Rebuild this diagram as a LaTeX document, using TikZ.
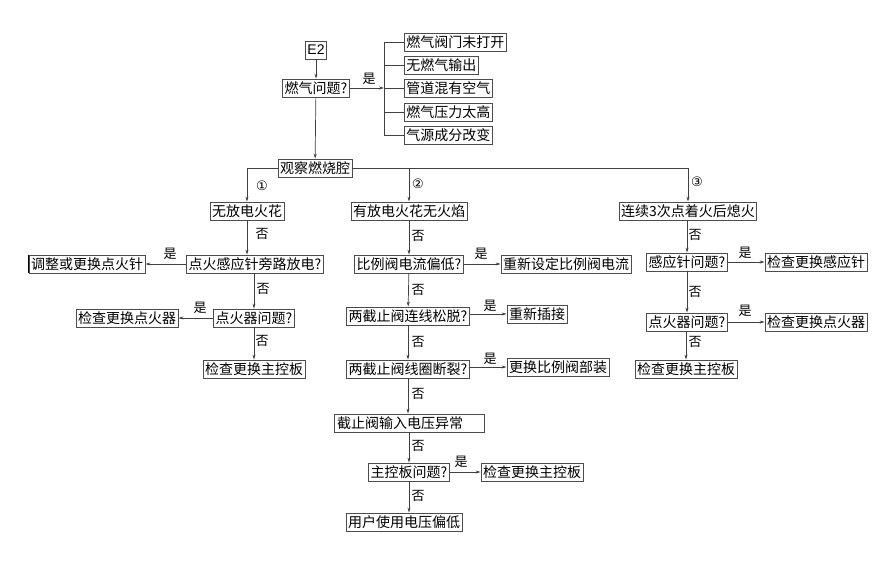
\documentclass[tikz,border=0pt]{standalone}
\usepackage{fontspec}
\setmainfont{Liberation Serif}
\newfontfamily\cjk{Noto Sans CJK SC}
\usetikzlibrary{arrows.meta}
\begin{document}
\begin{tikzpicture}[x=1pt,y=-1pt,
  bx/.style={draw=black!70,line width=0.8pt,inner xsep=2pt,inner ysep=1pt,minimum height=18pt,font=\cjk\fontsize{14}{15}\selectfont},
  lb/.style={font=\cjk\fontsize{13}{14}\selectfont,inner sep=1pt},
  ar/.style={draw=black!75,line width=0.7pt,-{Stealth[length=5pt,width=3pt]}},
  ln/.style={draw=black!75,line width=0.7pt}]
\useasboundingbox (0,0) rectangle (896,565);
% top
\node[bx] (e2) at (316,50) {\fontspec{Liberation Sans}E2};
\node[bx] (gas) at (316,88) {燃气问题?};
\node[bx,anchor=west] (r1) at (404,42) {燃气阀门未打开};
\node[bx,anchor=west] (r2) at (404,65) {无燃气输出};
\node[bx,anchor=west] (r3) at (404,88) {管道混有空气};
\node[bx,anchor=west] (r4) at (404,112) {燃气压力太高};
\node[bx,anchor=west] (r5) at (404,135) {气源成分改变};
\coordinate (bt) at (384,42);
\coordinate (bb) at (384,135);
\coordinate (bm) at (384,88);
\draw[ln] (bt) -- (bb);
\foreach \r in {r1,r2,r3,r4,r5} \draw[ln] (bt |- \r.west) -- (\r.west);
\draw[ar] (gas) -- (bm);
\node[lb] at (369,79) {是};
\draw[ar] (e2) -- (gas);
\node[bx] (obs) at (315,168) {观察燃烧腔};
\draw[ar] (gas) -- (obs);
% branches
\node[bx] (b1) at (247,211) {无放电火花};
\node[bx] (b2) at (409,211) {有放电火花无火焰};
\node[bx] (b3) at (688,211) {连续3次点着火后熄火};
\coordinate (h1) at (247,168);
\coordinate (h2) at (409,168);
\coordinate (h3) at (688,168);
\draw[ln] (h1) -- (obs.west);
\draw[ln] (obs.east) -- (h3);
\draw[ar] (h1) -- (b1);
\draw[ar] (h2) -- (b2);
\draw[ar] (h3) -- (b3);
\node[font=\fontspec{DejaVu Sans}\fontsize{13}{14}\selectfont] at (262,186) {①};
\node[font=\fontspec{DejaVu Sans}\fontsize{13}{14}\selectfont] at (418,184) {②};
\node[font=\fontspec{DejaVu Sans}\fontsize{13}{14}\selectfont] at (697,182) {③};
% left column
\node[bx] (l1) at (255,264) {点火感应针旁路放电?};
\node[bx] (l1y) at (87,264) {调整或更换点火针};
\draw[line width=1.4pt] (l1y.north west) -- (l1y.south west);
\node[bx] (l2) at (254,318) {点火器问题?};
\node[bx] (l2y) at (127,318) {检查更换点火器};
\node[bx] (l3) at (254,369) {检查更换主控板};
\draw[ar] (b1) -- (b1 |- l1.north);
\draw[ar] (l1) -- (l1y);
\draw[ar] (l1.south -| l2) -- (l2);
\draw[ar] (l2) -- (l2y);
\draw[ar] (l2) -- (l3);
\node[lb] at (170,254) {是};
\node[lb] at (200,308) {是};
\node[lb] at (262,234) {否};
\node[lb] at (263,289) {否};
\node[lb] at (262,341) {否};
% middle column
\node[bx] (m1) at (409,264) {比例阀电流偏低?};
\node[bx] (m1y) at (566,264) {重新设定比例阀电流};
\node[bx] (m2) at (408,316) {两截止阀连线松脱?};
\node[bx] (m2y) at (537,314) {重新插接};
\node[bx] (m3) at (408,369) {两截止阀线圈断裂?};
\node[bx] (m3y) at (558,367) {更换比例阀部装};
\node[bx,minimum width=150pt,text width=144pt,align=left] (m4) at (409,423) {截止阀输入电压异常};
\node[bx] (m5) at (409,472) {主控板问题?};
\node[bx] (m5y) at (532,472) {检查更换主控板};
\node[bx] (m6) at (404,522) {用户使用电压偏低};
\draw[ar] (b2) -- (m1);
\draw[ar] (m1) -- (m2);
\draw[ar] (m2) -- (m3);
\draw[ar] (m3) -- (m3 |- m4.north);
\draw[ar] (m4.south -| m5) -- (m5);
\draw[ar] (m5) -- (m5 |- m6.north);
\draw[ar] (m1) -- (m1y);
\draw[ar] (m2.east |- m2y) -- (m2y);
\draw[ar] (m3.east |- m3y) -- (m3y);
\draw[ar] (m5) -- (m5y);
\node[lb] at (481,254) {是};
\node[lb] at (490,306) {是};
\node[lb] at (490,359) {是};
\node[lb] at (461,462) {是};
\foreach \yy in {236,290,342,394,446,496} \node[lb] at (418,\yy) {否};
% right column
\node[bx] (n1) at (687,262) {感应针问题?};
\node[bx] (n1y) at (816,262) {检查更换感应针};
\node[bx] (n2) at (687,322) {点火器问题?};
\node[bx] (n2y) at (816,322) {检查更换点火器};
\node[bx] (n3) at (686,369) {检查更换主控板};
\draw[ar] (b3.south -| n1) -- (n1);
\draw[ar] (n1) -- (n2);
\draw[ar] (n2.south -| n3) -- (n3);
\draw[ar] (n1) -- (n1y);
\draw[ar] (n2) -- (n2y);
\node[lb] at (745,253) {是};
\node[lb] at (745,311) {是};
\node[lb] at (695,235) {否};
\node[lb] at (695,292) {否};
\node[lb] at (695,342) {否};
\end{tikzpicture}
\end{document}
